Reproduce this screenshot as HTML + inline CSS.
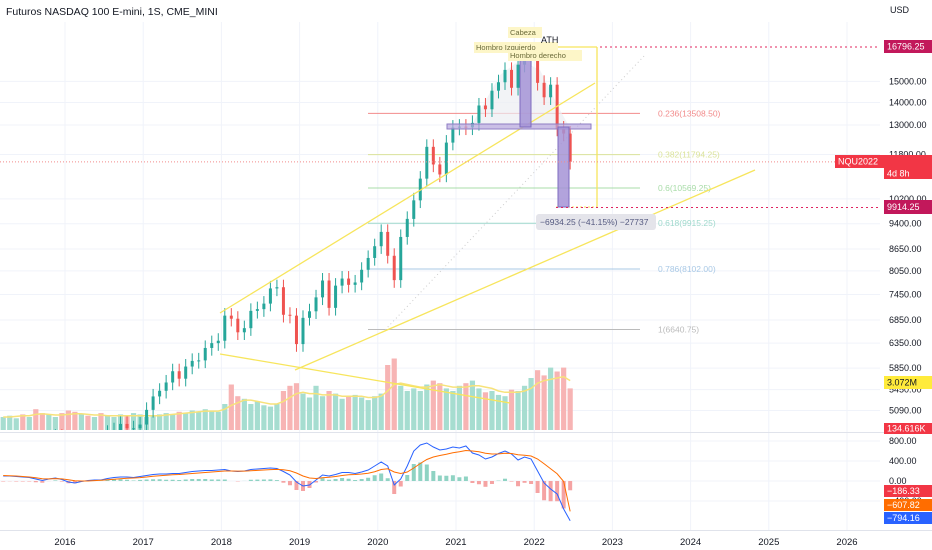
<!DOCTYPE html>
<html><head><meta charset="utf-8"><style>
body{margin:0;background:#fff;font-family:"Liberation Sans",sans-serif}
svg{display:block}
text{font-family:"Liberation Sans",sans-serif}
</style></head><body>
<svg id="c" width="932" height="550" viewBox="0 0 932 550">
<rect width="932" height="550" fill="#fff"/>
<g id="grid"></g>
<g id="draw1"></g>
<g id="vol"></g>
<g id="candles"></g>
<g id="macd"></g>
<g id="draw2"></g>
<g id="axis"></g>
<text x="6" y="15" font-size="10.5" fill="#131722">Futuros NASDAQ 100 E-mini, 1S, CME_MINI</text>
<text x="890" y="13" font-size="9" fill="#131722">USD</text>
</svg>
<script>
const years=["2016","2017","2018","2019","2020","2021","2022","2023","2024","2025","2026"];
const priceTicks=[15000,14000,13000,11800,10200,9400,8650,8050,7450,6850,6350,5850,5450,5090];
const macdTicks=[800,400,0,-400];
// monthly closes from Mar 2015
const closes=[4330,4410,4500,4400,4590,4270,4180,4650,4670,4590,
4280,4200,4480,4340,4520,4420,4730,4770,4870,4800,4800,4860,
5100,5330,5430,5580,5790,5650,5880,5990,6000,6250,6350,6400,
6950,6880,6580,6670,7060,7100,7230,7600,7630,6970,6950,6330,
6900,7050,7380,7800,7130,7670,7850,7690,7750,8080,8400,8730,
9150,8460,7810,9000,9550,10150,10900,12100,11420,11050,12270,12890,
12930,12900,13090,13860,13690,14550,14960,15580,14690,15850,16140,16320,
14930,14240,14840,12850,12640,11520];
const volumes=[1.0,1.1,0.9,1.2,1.0,1.6,1.3,1.2,1.0,1.3,
1.5,1.4,1.2,1.1,1.0,1.3,1.1,1.0,1.2,1.1,1.3,1.2,
1.0,1.1,1.2,1.3,1.2,1.4,1.3,1.5,1.4,1.6,1.5,1.4,
2.0,3.5,2.6,2.4,2.0,2.2,1.9,1.8,2.0,3.0,3.4,3.6,
2.8,2.5,3.4,2.6,3.0,2.8,2.4,2.6,2.7,2.5,2.3,2.6,
2.8,5.0,5.5,3.4,3.0,3.2,3.0,3.5,3.8,3.6,3.2,3.0,
3.4,3.6,3.8,3.2,2.9,3.0,2.7,2.6,3.1,3.0,3.4,4.0,
4.6,4.2,4.8,4.5,4.8,3.2];
const volMA=[1.0,1.0,1.05,1.1,1.1,1.2,1.25,1.2,1.15,1.15,
1.2,1.25,1.25,1.2,1.15,1.15,1.1,1.1,1.1,1.1,1.1,1.1,
1.1,1.1,1.1,1.15,1.2,1.25,1.3,1.35,1.4,1.45,1.45,1.45,
1.6,1.9,2.1,2.3,2.3,2.2,2.1,2.0,2.0,2.2,2.5,2.8,
2.9,2.8,2.8,2.7,2.7,2.7,2.6,2.6,2.6,2.6,2.5,2.5,
2.6,3.0,3.5,3.6,3.5,3.4,3.3,3.3,3.4,3.5,3.4,3.3,
3.3,3.3,3.4,3.4,3.3,3.2,3.0,2.9,2.9,2.9,3.0,3.2,
3.6,3.8,3.9,4.0,4.1,3.8];
const macdLine=[100,100,90,80,70,40,10,40,60,30,
-20,-40,-10,10,20,20,50,70,80,80,70,90,
110,130,140,140,150,150,170,190,200,210,210,220,
230,200,190,200,230,240,250,260,250,190,120,-20,
-100,-80,20,120,100,130,170,170,150,180,220,300,
380,300,-80,40,300,600,720,760,680,620,640,680,
660,700,560,520,440,480,550,600,540,420,480,440,
200,-40,-160,-260,-560,-794];
const signalLine=[110,105,100,90,80,65,45,42,48,42,
25,5,0,0,8,14,25,35,45,55,60,68,
80,95,105,115,125,130,140,150,160,170,180,190,
200,200,198,198,205,212,220,228,232,224,205,160,
100,60,50,65,75,90,110,125,130,140,155,185,
230,245,180,150,180,260,350,430,480,510,535,565,
585,610,600,585,556,540,542,554,551,525,516,500,
440,345,245,145,-10,-608];

const NS="http://www.w3.org/2000/svg";
function el(tag,attrs,parent,txt){const e=document.createElementNS(NS,tag);for(const k in attrs)e.setAttribute(k,attrs[k]);if(txt!==undefined)e.textContent=txt;document.getElementById(parent).appendChild(e);return e;}
const xYear=y=>65+(y-2016)*78.2;
const xIdx=i=>xYear(2015.17+i/12+0.04);
const yP=p=>47+(Math.log10(16796.25)-Math.log10(p))*701;
const yV=v=>430-v*13;
const yM=m=>481-m*0.05;
const G="#f0f3fa";

years.forEach(y=>{const l=el("line",{x1:xYear(+y),x2:xYear(+y),y1:22,y2:530,stroke:G},"grid");

});
priceTicks.forEach(p=>{const l=el("line",{x1:0,x2:880,y1:yP(p),y2:yP(p),stroke:G},"grid");

});
macdTicks.forEach(m=>{const l=el("line",{x1:0,x2:880,y1:yM(m),y2:yM(m),stroke:G},"grid");

});
el("line",{x1:0,x2:932,y1:432.5,y2:432.5,stroke:"#e0e3eb"},"grid");
el("line",{x1:0,x2:932,y1:530.5,y2:530.5,stroke:"#e0e3eb"},"grid");

const fibs=[["0.236(13508.50)",13508.5,"#f28b8b",368],["0.382(11794.25)",11794.25,"#dbe39a",368],["0.6(10569.25)",10569.25,"#a8dca8",368],["0.618(9915.25)",9415.25,"#9fd9cc",368],["0.786(8102.00)",8102,"#a9c9e6",368],["1(6640.75)",6640.75,"#bbbbbb",368]];
fibs.forEach(f=>{const y=yP(f[1]);const l=el("line",{x1:f[3],x2:640,y1:y,y2:y,stroke:f[2],"stroke-width":1},"draw1");


const t=el("text",{x:658,y:y+3,"font-size":8.5,fill:f[2]},"draw1",f[0]);

});
el("line",{x1:385,y1:330,x2:645,y2:55,stroke:"#ccc","stroke-dasharray":"1,3"},"draw1");
el("polygon",{points:"470,128 500,75 520,60 540,70 560,110 570,128",fill:"#eceef2",opacity:0.7},"draw1");

volumes.forEach((v,i)=>{const up=i===0||closes[i]>=closes[i-1];const b=el("rect",{x:xIdx(i)-2.6,y:yV(v),width:5.2,height:430-yV(v),fill:up?"#a6ddd0":"#f7b4b4"},"vol");

});
const vm=el("polyline",{points:volMA.map((v,i)=>xIdx(i)+","+yV(v)).join(" "),fill:"none",stroke:"#f7e27a","stroke-width":1.5},"vol");



const cp=el("clipPath",{id:"pc"},"candles");
const cr=document.createElementNS(NS,"rect");cr.setAttribute("x",0);cr.setAttribute("y",22);cr.setAttribute("width",880);cr.setAttribute("height",408);cp.appendChild(cr);
const cg=el("g",{"clip-path":"url(#pc)"},"candles");cg.id="cg";
closes.forEach((c,i)=>{const o=i?closes[i-1]:c;const up=c>=o;const col=up?"#26a69a":"#ef5350";
const hi=Math.max(o,c)*1.025,lo=Math.min(o,c)*0.975,x=xIdx(i);
const w=el("line",{x1:x,x2:x,y1:yP(hi),y2:yP(lo),stroke:col},"cg");


const r=el("rect",{x:x-1.5,y:yP(Math.max(o,c)),width:3,height:Math.max(1,Math.abs(yP(o)-yP(c))),fill:col},"cg");

});

macdLine.forEach((m,i)=>{const h=m-signalLine[i];const y=yM(Math.max(h,0));const b=el("rect",{x:xIdx(i)-2,y:y,width:4,height:Math.abs(h)*0.05,fill:h>=0?"#8fd3c3":"#f5a3a3"},"macd");

});
const ml=el("polyline",{points:macdLine.map((m,i)=>xIdx(i)+","+yM(m)).join(" "),fill:"none",stroke:"#2962ff","stroke-width":1},"macd");


const sl=el("polyline",{points:signalLine.map((m,i)=>xIdx(i)+","+yM(m)).join(" "),fill:"none",stroke:"#ff6d00","stroke-width":1},"macd");



const Y="#f7e55c";
[[220,313,595,83],[295,370,755,170],[220,354,510,403],[520,47,597,47]].forEach(s=>{const l=el("line",{x1:s[0],y1:s[1],x2:s[2],y2:s[3],stroke:Y,"stroke-width":1.3},"draw2");

});
el("line",{x1:597,y1:47,x2:597,y2:208,stroke:Y,"stroke-width":1.3},"draw2");
el("line",{x1:556,y1:207,x2:597,y2:207,stroke:Y,"stroke-dasharray":"2,2"},"draw2");
el("rect",{x:447,y:124,width:144,height:5,fill:"#b9a8e0",stroke:"#8e7cc3","fill-opacity":0.7},"draw2");
el("rect",{x:520,y:47,width:11,height:80,fill:"#a593d6",stroke:"#7e6bbf","fill-opacity":0.85},"draw2");
el("rect",{x:558,y:127,width:11,height:80,fill:"#a593d6",stroke:"#7e6bbf","fill-opacity":0.85},"draw2");
el("line",{x1:600,x2:880,y1:47,y2:47,stroke:"#e0245e","stroke-dasharray":"2,3"},"draw2");
el("line",{x1:556,x2:880,y1:207.5,y2:207.5,stroke:"#e0245e","stroke-dasharray":"2,3"},"draw2");
el("line",{x1:0,x2:880,y1:yP(11517.25),y2:yP(11517.25),stroke:"#f28b8b","stroke-dasharray":"1,2"},"draw2");
[["Cabeza",510,35],["Hombro Izquierdo",476,50],["Hombro derecho",510,58]].forEach(a=>{
const bg=el("rect",{x:a[1]-2,y:a[2]-8,width:a[0].length*5+4,height:11,fill:"#fdf6c8"},"draw2");


const t=el("text",{x:a[1],y:a[2],"font-size":7.5,fill:"#6b6b3a"},"draw2",a[0]);

});
el("text",{x:541,y:43,"font-size":9,fill:"#131722"},"draw2","ATH");
el("rect",{x:536,y:214,width:120,height:16,rx:3,fill:"#e4e4ea"},"draw2");
el("text",{x:540,y:225,"font-size":8.5,fill:"#555a80"},"draw2","−6934.25 (−41.15%) −27737");

priceTicks.forEach(p=>{const t=el("text",{x:889,y:yP(p)+3,"font-size":9,fill:"#131722"},"axis",p.toFixed(2));

});
macdTicks.forEach(m=>{const t=el("text",{x:889,y:yM(m)+3,"font-size":9,fill:"#131722"},"axis",m===0?"0.00":(m<0?"−":"")+Math.abs(m).toFixed(2));

});
years.forEach(y=>{const t=el("text",{x:xYear(+y),y:545,"font-size":9.5,"text-anchor":"middle",fill:"#131722"},"axis",y);

});
function tag(y,h,bg,txt,fg,x){x=x||884;const r=el("rect",{x:x,y:y,width:932-x,height:h,fill:bg},"axis");


const t=el("text",{x:x+3,y:y+h/2+3,"font-size":9,fill:fg},"axis",txt);

}
tag(40,13,"#c2185b","16796.25","#fff");
tag(200,14,"#c2185b","9914.25","#fff");
tag(155,13,"#f23645","11517.25","#fff");
tag(168,11,"#f23645","4d 8h","#fff");
tag(155,13,"#f23645","NQU2022","#fff",835);
tag(376,13,"#ffeb3b","3.072M","#131722");
tag(423,11,"#f23645","134.616K","#fff");
tag(485,12,"#f23645","−186.33","#fff");
tag(499,12,"#ff6d00","−607.82","#fff");
tag(512,12,"#2962ff","−794.16","#fff");
</script>
</body></html>
